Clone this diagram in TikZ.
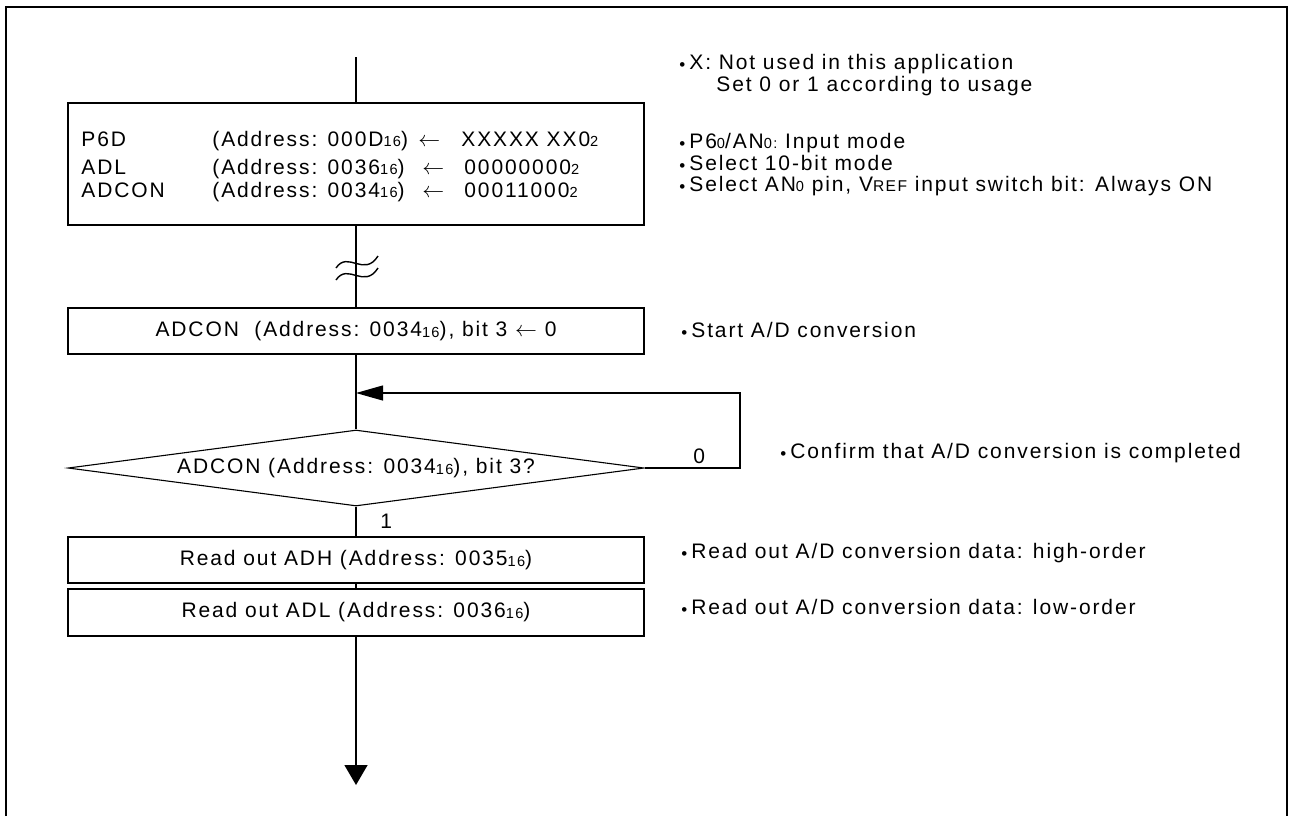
\documentclass[tikz,border=0pt]{standalone}
\usepackage{fontspec}
\setmainfont[LetterSpace=9]{Liberation Sans}
\usetikzlibrary{arrows.meta,shapes.geometric}
\newcommand{\smallnum}[1]{\raisebox{-0.4pt}{\fontsize{7.3}{7.3}\selectfont #1}}
\newcommand{\smallcapsref}[1]{{\fontsize{7.8}{8}\selectfont #1}}
\newcommand{\mybullet}{\raisebox{-0.8pt}{\fontsize{8.5}{8.5}\selectfont •}\hspace{2pt}}
\begin{document}
\begin{tikzpicture}[x=0.5pt,y=-0.5pt,
  txt/.style={inner sep=0pt, anchor=base west, font=\fontsize{10.5}{12}\selectfont},
  procbox/.style={draw, line width=0.85pt, rectangle, minimum width=288pt, inner sep=0pt, font=\fontsize{10.5}{12}\selectfont},
  decbox/.style={draw, line width=0.55pt, diamond, aspect=7.6, minimum width=288pt, minimum height=38pt, inner sep=0pt, font=\fontsize{10.5}{12}\selectfont},
  flow/.style={line width=0.7pt},
  loopline/.style={line width=0.55pt},
]
\useasboundingbox (0,0) rectangle (1289,816);
% frame
\draw[line width=1.1pt] (6,816) -- (6,7) -- (1287,7) -- (1287,816);

% flow nodes
\coordinate (start) at (356,57);
\node[procbox, minimum height=61pt] (init) at (356,164) {};
\node[procbox, minimum height=23pt] (adc) at (356,331) {ADCON\ \ (Address: 0034\smallnum{16}), bit 3 $\leftarrow$ 0};
\node[decbox] (dec) at (356,468) {ADCON (Address: 0034\smallnum{16}), bit 3?};
\node[procbox, minimum height=23pt] (adh) at (356,560) {Read out ADH (Address: 0035\smallnum{16})};
\node[procbox, minimum height=23.5pt] (adl) at (356,612.5) {Read out ADL (Address: 0036\smallnum{16})};
\coordinate (loopin) at (356,393);
\coordinate (loopc1) at (740,468);
\coordinate (loopc2) at (740,393);
\coordinate (endpt) at (356,785);

% init box contents
\node[txt] (r1a) at (81,146) {P6D};
\node[txt] (r1b) at (212,146) {(Address: 000D\smallnum{16})};
\node[txt] (r1c) at (418,146) {$\leftarrow$};
\node[txt] (r1d) at (461,146) {XXXXX XX0\smallnum{2}};
\node[txt] (r2a) at (81,174) {ADL};
\node[txt] (r2b) at (212,174) {(Address: 0036\smallnum{16})};
\node[txt] (r2c) at (422,174) {$\leftarrow$};
\node[txt] (r2d) at (464,174) {00000000\smallnum{2}};
\node[txt] (r3a) at (81,197) {ADCON};
\node[txt] (r3b) at (212,197) {(Address: 0034\smallnum{16})};
\node[txt] (r3c) at (422,197) {$\leftarrow$};
\node[txt] (r3d) at (464,197) {00011000\smallnum{2}};

% connectors
\draw[flow] (start) -- (init.north);
\draw[flow] (init.south) -- (adc.north);
\draw[flow] (adc.south) -- (dec.north);
\draw[flow] (dec.south) -- (adh.north);
\draw[flow] (adh.south) -- (adl.north);
\draw[flow, -{Triangle[length=10pt,width=11.5pt]}] (adl.south) -- (endpt);
\draw[loopline, -{Triangle[length=13.5pt,width=7.5pt]}] (dec.east) -- (loopc1) -- (loopc2) -- (loopin);

% break mark
\draw[flow] (336,268) .. controls (348,250) and (364,278) .. (378,256);
\draw[flow] (336,280) .. controls (348,262) and (364,290) .. (378,268);

% branch labels
\node[txt] (lab0) at (693,463) {0};
\node[txt] (lab1) at (380,528) {1};

% annotations
\node[txt] (n1) at (679,69) {\mybullet X: Not used in this application};
\node[txt] (n1b) at (716,91) {Set 0 or 1 according to usage};
\node[txt] (n2) at (679,148) {\mybullet P6\smallnum{0}/AN\smallnum{0:} Input mode};
\node[txt] (n3) at (679,170) {\mybullet Select 10-bit mode};
\node[txt] (n4) at (679,191) {\mybullet Select AN\smallnum{0} pin, V\smallcapsref{REF} input switch bit: Always ON};
\node[txt] (n5) at (681,337) {\mybullet Start A/D conversion};
\node[txt] (n6) at (780,458) {\mybullet Confirm that A/D conversion is completed};
\node[txt] (n7) at (681,558) {\mybullet Read out A/D conversion data: high-order};
\node[txt] (n8) at (681,614) {\mybullet Read out A/D conversion data: low-order};
\end{tikzpicture}
\end{document}
